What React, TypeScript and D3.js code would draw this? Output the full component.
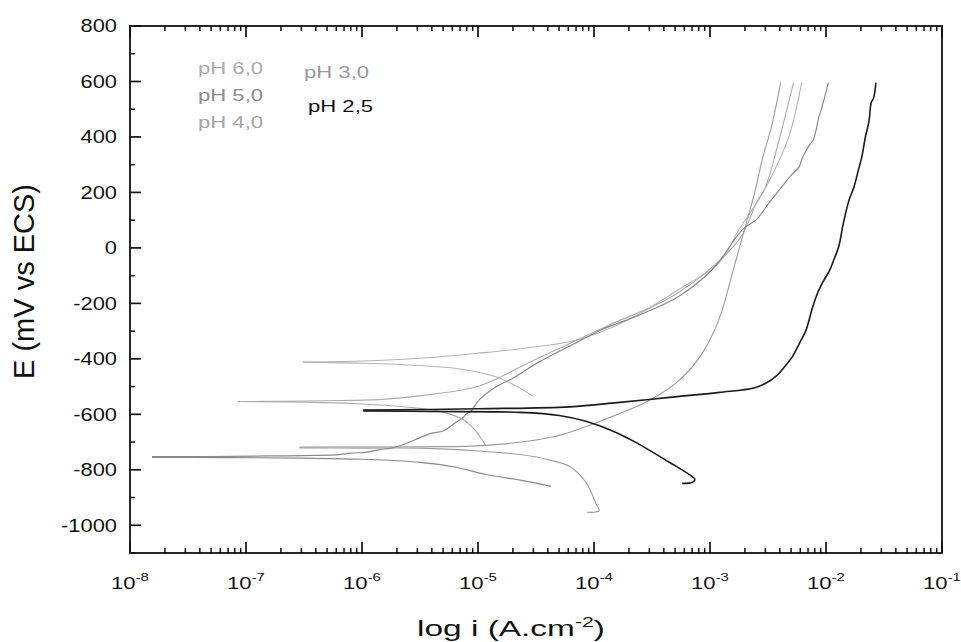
import React from "react";
import * as d3 from "d3";

// ---- data (log10 of current density in A/cm², potential in mV vs ECS) ----
// pH 6,0 (Ecorr ≈ -412)
const ph60CathLogI = [-6.51, -6.0, -5.5, -5.2, -4.99, -4.85, -4.73, -4.62, -4.53];
const ph60CathE = [-412, -416, -424, -434, -449, -464, -485, -510, -535];
const ph60AnodLogI = [-6.51, -6.0, -5.5, -5.0, -4.6, -4.13, -3.7, -3.27, -2.92, -2.75, -2.58, -2.47, -2.32, -2.21];
const ph60AnodE = [-412, -408, -398, -380, -362, -330, -258, -150, -53, 66, 174, 257, 401, 596];

// pH 5,0 (Ecorr ≈ -554)
const ph50CathLogI = [-7.07, -6.5, -6.0, -5.56, -5.3, -5.13, -5.02, -4.96, -4.93];
const ph50CathE = [-554, -556, -563, -576, -592, -619, -660, -695, -716];
const ph50AnodLogI = [-7.07, -6.71, -6.3, -5.85, -5.4, -4.99, -4.56, -3.9, -3.27, -2.75, -2.6, -2.52, -2.41, -2.28];
const ph50AnodE = [-554, -553, -551, -547, -528, -498, -413, -284, -161, 30, 163, 221, 380, 596];

// pH 4,0 (Ecorr ≈ -720)
const ph40CathLogI = [-6.54, -6.0, -5.5, -5.0, -4.64, -4.4, -4.21, -4.07, -3.98, -3.955, -4.0, -4.06];
const ph40CathE = [-721, -722, -722, -732, -745, -763, -788, -845, -925, -948, -953, -953];
const ph40AnodLogI = [-6.54, -6.0, -5.5, -4.93, -4.36, -3.93, -3.5, -3.24, -3.06, -2.92, -2.8, -2.7, -2.62, -2.55, -2.47, -2.39];
const ph40AnodE = [-718, -718, -717, -712, -682, -622, -545, -468, -375, -255, -80, 70, 190, 318, 437, 596];

// pH 3,0 (Ecorr ≈ -754)
const ph30CathLogI = [-7.81, -7.2, -6.54, -6.0, -5.5, -5.2, -4.93, -4.6, -4.37];
const ph30CathE = [-755, -756, -758, -762, -773, -790, -817, -840, -860];
const ph30AnodLogI = [-7.81, -7.3, -6.8, -6.39, -6.2, -6.1, -5.95, -5.85, -5.75, -5.62, -5.5, -5.4, -5.3, -5.2, -5.13, -5.1, -5.06, -4.99, -4.84, -4.7, -4.62, -4.47, -4.2, -3.93, -3.6, -3.27, -2.98, -2.72, -2.6, -2.49, -2.38, -2.3, -2.23, -2.21, -2.15, -2.11, -2.09, -2.06, -2.04, -2.01, -1.98];
const ph30AnodE = [-752, -752, -750, -748, -745, -740, -736, -727, -722, -705, -684, -668, -660, -632, -612, -598, -588, -548, -500, -470, -449, -410, -352, -294, -240, -175, -78, 66, 102, 163, 221, 262, 293, 319, 366, 390, 416, 474, 500, 546, 596];

// pH 2,5 (Ecorr ≈ -587)
const ph25CathLogI = [-5.99, -5.4, -4.64, -4.3, -4.07, -3.85, -3.64, -3.35, -3.155, -3.13, -3.15, -3.24];
const ph25CathE = [-588, -590, -593, -604, -625, -658, -701, -773, -824, -835, -845, -849];
const ph25AnodLogI = [-5.99, -5.0, -4.21, -3.8, -3.35, -2.92, -2.62, -2.52, -2.43, -2.36, -2.29, -2.23, -2.17, -2.12, -2.07, -2.02, -1.97, -1.93, -1.89, -1.85, -1.8, -1.76, -1.72, -1.69, -1.66, -1.63, -1.61, -1.59, -1.57];
const ph25AnodE = [-585, -580, -573, -558, -539, -521, -505, -488, -462, -430, -392, -345, -294, -220, -160, -118, -82, -40, 5, 90, 174, 218, 282, 330, 401, 455, 524, 540, 596];

const legendLabels = ["pH 6,0", "pH 5,0", "pH 4,0", "pH 3,0", "pH 2,5"];
const yTicks = [-1000, -800, -600, -400, -200, 0, 200, 400, 600, 800];
const xExponents = [-8, -7, -6, -5, -4, -3, -2, -1];

const W = 961;
const H = 642;
const left = 130;
const right = 942;
const top = 26;
const bottom = 553;
const SX = 1.3; // horizontal stretch of the lettering

export default function App() {
  const x = d3.scaleLog().domain([1e-8, 1e-1]).range([left, right]);
  const y = d3.scaleLinear().domain([-1100, 800]).range([bottom, top]);

  const mk = (li: number[], e: number[]) => li.map((v, k) => [Math.pow(10, v), e[k]] as [number, number]);
  const line = d3
    .line<[number, number]>()
    .x((d) => x(d[0]))
    .y((d) => y(d[1]))
    .curve(d3.curveCatmullRom.alpha(0.5));

  const series = [
    { c: mk(ph60CathLogI, ph60CathE), a: mk(ph60AnodLogI, ph60AnodE), color: "#b4b4b4", w: 1.1 },
    { c: mk(ph50CathLogI, ph50CathE), a: mk(ph50AnodLogI, ph50AnodE), color: "#acacac", w: 1.1 },
    { c: mk(ph40CathLogI, ph40CathE), a: mk(ph40AnodLogI, ph40AnodE), color: "#9c9c9c", w: 1.1 },
    { c: mk(ph30CathLogI, ph30CathE), a: mk(ph30AnodLogI, ph30AnodE), color: "#8a8a8a", w: 1.2 },
    { c: mk(ph25CathLogI, ph25CathE), a: mk(ph25AnodLogI, ph25AnodE), color: "#1a1a1a", w: 1.6 },
  ];

  const yMinor = d3.range(-1100, 801, 100).filter((v) => !yTicks.includes(v));
  const xMinor: number[] = [];
  for (let e = -8; e < -1; e++) for (let m = 2; m <= 9; m++) xMinor.push(m * Math.pow(10, e));

  const font = "'Liberation Sans', Arial, sans-serif";
  const legendPos = [
    { x: 198, y: 74, color: "#ababab" },
    { x: 198, y: 101, color: "#8c8c8c" },
    { x: 198, y: 128, color: "#a6a6a6" },
    { x: 304, y: 78, color: "#9a9a9a" },
    { x: 308, y: 112, color: "#111111" },
  ];

  return (
    <svg
      width={W}
      height={H}
      style={{ position: "absolute", left: 0, top: 0, background: "#fff" }}
      fontFamily={font}
    >
      <rect x={0} y={0} width={W} height={H} fill="#fff" />
      <defs>
        <clipPath id="plot">
          <rect x={left} y={top} width={right - left} height={bottom - top} />
        </clipPath>
      </defs>
      <g clipPath="url(#plot)" fill="none">
        {series.map((s, i) => (
          <g key={i} stroke={s.color} strokeWidth={s.w} strokeLinejoin="round">
            <path d={line(s.c) || ""} />
            <path d={line(s.a) || ""} />
          </g>
        ))}
      </g>

      {/* frame */}
      <rect x={left} y={top} width={right - left} height={bottom - top} fill="none" stroke="#111" strokeWidth={1.8} />

      {/* y ticks */}
      {yTicks.map((v) => (
        <g key={v}>
          <line x1={left} x2={left + 11} y1={y(v)} y2={y(v)} stroke="#111" strokeWidth={1.7} />
          <text
            transform={`translate(117,${y(v)}) scale(${SX - 0.05},1)`}
            dy="0.36em"
            textAnchor="end"
            fontSize={17.5}
            fill="#111"
          >
            {v}
          </text>
        </g>
      ))}
      {yMinor.map((v) => (
        <line key={v} x1={left} x2={left + 5} y1={y(v)} y2={y(v)} stroke="#111" strokeWidth={1.5} />
      ))}

      {/* x ticks, bottom and top */}
      {xExponents.map((e) => {
        const px = x(Math.pow(10, e));
        return (
          <g key={e}>
            <line x1={px} x2={px} y1={bottom} y2={bottom - 11} stroke="#111" strokeWidth={1.7} />
            <line x1={px} x2={px} y1={top} y2={top + 11} stroke="#111" strokeWidth={1.7} />
            <text
              transform={`translate(${px},589) scale(${SX},1)`}
              textAnchor="middle"
              fontSize={17}
              fill="#111"
            >
              10<tspan dy={-8} fontSize={11.5}>{e}</tspan>
            </text>
          </g>
        );
      })}
      {xMinor.map((v, i) => (
        <g key={i}>
          <line x1={x(v)} x2={x(v)} y1={bottom} y2={bottom - 5} stroke="#111" strokeWidth={1.5} />
          <line x1={x(v)} x2={x(v)} y1={top} y2={top + 5} stroke="#111" strokeWidth={1.5} />
        </g>
      ))}

      {/* axis titles */}
      <text
        transform={`translate(34,${(top + bottom) / 2 - 8}) rotate(-90)`}
        textAnchor="middle"
        fontSize={29}
        fill="#111"
      >
        E (mV vs ECS)
      </text>
      <text
        transform={`translate(511,636) scale(1.52,1)`}
        textAnchor="middle"
        fontSize={22}
        fill="#111"
      >
        log i (A.cm<tspan dy={-9} fontSize={14}>-2</tspan>
        <tspan dy={9}>)</tspan>
      </text>

      {/* legend */}
      {legendLabels.map((t, i) => (
        <text
          key={t}
          transform={`translate(${legendPos[i].x},${legendPos[i].y}) scale(${SX},1)`}
          fontSize={17}
          fill={legendPos[i].color}
        >
          {t}
        </text>
      ))}
    </svg>
  );
}
